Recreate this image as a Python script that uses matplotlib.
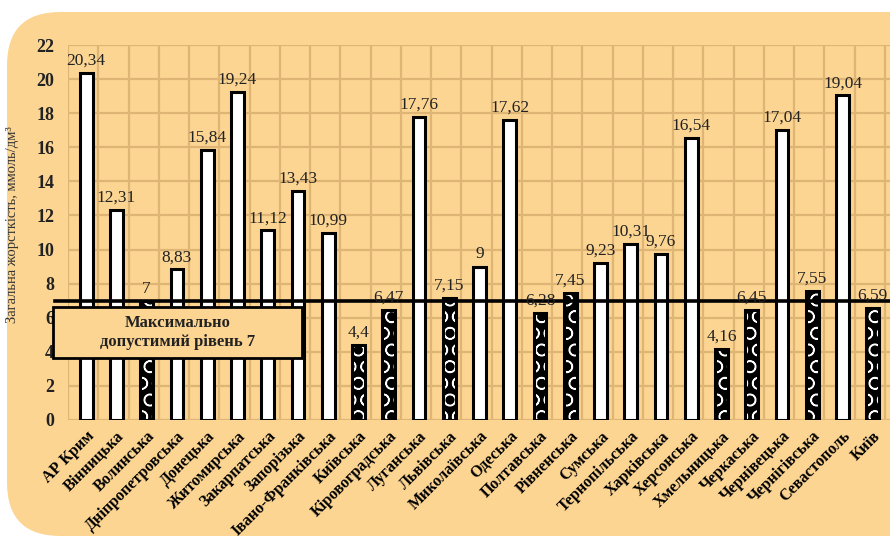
import matplotlib.pyplot as plt
from matplotlib.patches import FancyBboxPatch, Rectangle

regions = ["АР Крим", "Вінницька", "Волинська", "Дніпропетровська", "Донецька",
           "Житомирська", "Закарпатська", "Запорізька", "Івано-Франківська",
           "Київська", "Кіровоградська", "Луганська", "Львівська", "Миколаївська",
           "Одеська", "Полтавська", "Рівненська", "Сумська", "Тернопільська",
           "Харківська", "Херсонська", "Хмельницька", "Черкаська", "Чернівецька",
           "Чернігівська", "Севастополь", "Київ"]
hardness = [20.34, 12.31, 7, 8.83, 15.84, 19.24, 11.12, 13.43, 10.99, 4.4, 6.47,
            17.76, 7.15, 9, 17.62, 6.28, 7.45, 9.23, 10.31, 9.76, 16.54, 4.16,
            6.45, 17.04, 7.55, 19.04, 6.59]
max_level = 7

BG = '#fcd593'
GRID = '#deb574'
SERIF = ['Liberation Serif', 'DejaVu Serif']

W, H = 890, 538
fig = plt.figure(figsize=(W / 100, H / 100), dpi=100)
fig.patch.set_facecolor('white')

# rounded tan panel behind the chart
panel = FancyBboxPatch((7 / W, 2 / H), 1.2, 1 - 14 / H,
                       boxstyle='round,pad=0,rounding_size=0.06',
                       transform=fig.transFigure, facecolor=BG, edgecolor='none',
                       mutation_aspect=W / H, zorder=-5)
fig.patches.append(panel)

ax = fig.add_axes([68 / W, 1 - 420 / H, (891 - 68) / W, (420 - 45) / H])
ax.set_facecolor('none')
ax.set_zorder(1)
for s in ax.spines.values():
    s.set_visible(False)

x = list(range(len(regions)))
ax.set_xlim(-0.6, 26.6)
ax.set_ylim(0, 22)
ax.set_yticks(range(0, 23, 2))
ax.set_xticks(x)
ax.set_xticks([i - 0.6 for i in range(28)], minor=True)
ax.grid(True, which='minor', axis='x', color=GRID, lw=1.6, zorder=0)
ax.grid(True, which='major', axis='y', color=GRID, lw=1.6, zorder=0)
ax.tick_params(which='both', length=0)
ax.tick_params(axis='y', pad=10)

width = 0.42
low = [v < 8 for v in hardness]
for xi, v, is_low in zip(x, hardness, low):
    if is_low:
        ax.bar(xi, v, width, color='black', zorder=2)
        ax.bar(xi, v, width, facecolor='none', edgecolor='white', lw=0,
               hatch='O', zorder=3)
    else:
        ax.bar(xi, v, width, color='white', zorder=2)
    ax.bar(xi, v, width, facecolor='none', edgecolor='black', lw=2.2, zorder=4)

for xi, v in zip(x, hardness):
    txt = f'{v:g}'.replace('.', ',')
    ax.annotate(txt, (xi, v), xytext=(0, 3), textcoords='offset points',
                ha='center', va='bottom', fontsize=12.5, family=SERIF,
                color='#222222', zorder=6)

# maximum permissible level
ax.plot([-1.02, 26.6], [max_level, max_level], color='black', lw=2.6,
        clip_on=False, zorder=5)
ax.add_patch(Rectangle((-1.09, 3.64), 8.23, 2.99, facecolor=BG,
                       edgecolor='black', lw=2, clip_on=False, zorder=7))
ax.text(3.02, 5.14, f'Максимально\nдопустимий рівень {max_level}',
        ha='center', va='center', fontsize=12, fontweight='bold',
        family=SERIF, color='#222222', linespacing=1.25, zorder=8)

ax.set_xticklabels(regions, rotation=45, ha='right', rotation_mode='anchor',
                   fontsize=11.5, fontweight='bold', family=SERIF)
ax.tick_params(axis='x', pad=6)
for lab in ax.get_yticklabels():
    lab.set_family(SERIF)
    lab.set_fontsize(13)
    lab.set_fontweight('bold')
    lab.set_color('#222222')

ax.set_ylabel('Загальна жорсткість, ммоль/дм³', fontsize=10.5, family=SERIF,
              color='#333333')
ax.yaxis.set_label_coords(-0.06, 0.52)

fig.savefig('out.png', dpi=100, facecolor=fig.get_facecolor())
